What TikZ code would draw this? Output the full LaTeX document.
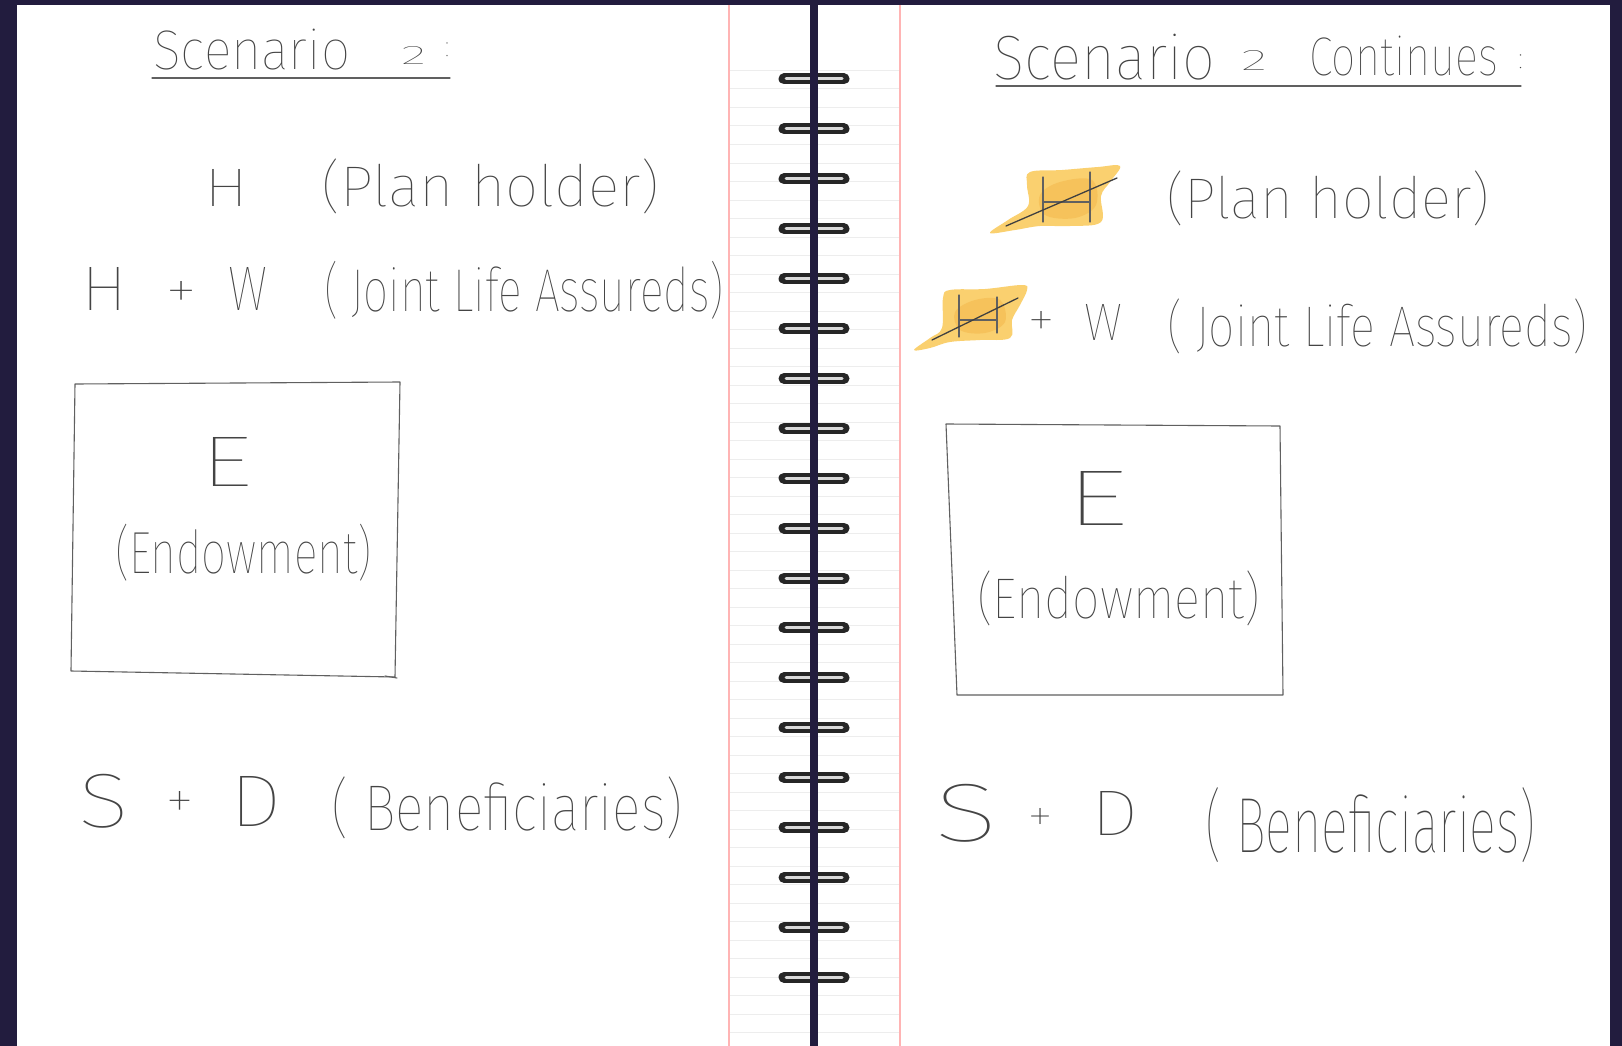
\documentclass[tikz,border=0pt]{standalone}
\usepackage{fontspec}
\usepackage{graphicx}
\newfontfamily\hand{Fira Sans Thin}
\definecolor{frame}{HTML}{221C3E}
\definecolor{ink}{HTML}{444444}
\definecolor{margin}{HTML}{FFB4B4}
\definecolor{rule}{HTML}{EDEDED}
\definecolor{marker}{HTML}{F9C54C}
\definecolor{markerdark}{HTML}{F0A936}

% handwritten word scaled to a given width and total height (pt)
\newcommand\hw[3]{\resizebox*{#1pt}{#2pt}{\hand #3}}

\tikzset{
  word/.style={anchor=west, inner sep=0pt, outer sep=0pt, text=ink},
  pen/.style={draw=ink!85, line width=1.1pt, line join=round, line cap=round},
  strike/.style={draw=black!75, line width=1.3pt, line cap=round},
  hilite/.style={fill=marker, fill opacity=0.8, draw=none},
  hilitedark/.style={fill=markerdark, fill opacity=0.35, draw=none},
  ring/.style={line width=11pt, line cap=round, draw=black!85},
  ringshine/.style={line width=3pt, line cap=round, draw=white!70!gray},
}

\begin{document}
\begin{tikzpicture}[x=1pt,y=-1pt]
\useasboundingbox (0,0) rectangle (1622,1046);
\fill[frame] (0,0) rectangle (1622,1046);
\fill[white] (17,5) rectangle (1610,1046);

% ruled strip between the margins
\foreach \k in {0,...,52}
  \draw[rule, line width=1pt] (729,70.5+18.5*\k) -- (900,70.5+18.5*\k);
\draw[margin, line width=1.8pt] (729,5) -- (729,1046) (900,5) -- (900,1046);

% spiral binding
\foreach \k in {0,...,18}{
  \draw[ring] (784,79+49.9*\k) -- (844,79+49.9*\k);
  \draw[ringshine] (786,79+49.9*\k) -- (842,79+49.9*\k);
}
\fill[frame] (810,0) rectangle (818,1046);

% ---------------- left page ----------------
\node[word] (ttlA) at (153,50) {\hw{197}{41}{Scenario}};
\node[word] (ttlAn) at (401,55) {\hw{25}{18}{2}};
\node[word] (ttlAc) at (445,50) {\hw{4}{14}{:}};
\draw[pen] (152,78) -- (450,78);

\node[word] (hA) at (204,188) {\hw{44}{37}{H}};
\node[word] (phA) at (321,186) {\hw{339}{55}{(Plan holder)}};

\node[word] (hA2) at (81,289) {\hw{46}{43}{H}};
\node[word] (plA) at (165,295) {\hw{32}{28}{+}};
\node[word] (wA) at (228,289) {\hw{39}{43}{W}};
\node[word] (jlA) at (324,290) {\hw{400}{58}{( Joint Life Assureds)}};

\draw[pen] (75,384) -- (400,382) -- (395,677) -- (71,671) -- cycle;
\draw[pen] (385,676) -- (397,678);
\node[word] (eA) at (200,462) {\hw{52}{49}{E}};
\node[word] (enA) at (115,553) {\hw{257}{57}{(Endowment)}};

\node[word] (sA) at (78,801) {\hw{51}{54}{S}};
\node[word] (plA2) at (165,805) {\hw{29}{28}{+}};
\node[word] (dA) at (230,801) {\hw{51}{50}{D}};
\node[word] (bnA) at (331,808) {\hw{352}{62}{( Beneficiaries)}};

% ---------------- right page ----------------
\node[word] (ttlB) at (993,57) {\hw{222}{46}{Scenario}};
\node[word] (ttlBn) at (1241,60) {\hw{26}{20}{2}};
\node[word] (ttlBc) at (1309,56) {\hw{189}{40}{Continues}};
\node[word] (ttlBd) at (1518,62) {\hw{5}{14}{:}};
\draw[pen] (996,86) -- (1521,86);

% highlighted, struck-out H (plan holder)
\fill[hilite] plot[smooth cycle, tension=0.6] coordinates {
  (990,233) (1008,220) (1028,206) (1027,185) (1030,172) (1062,170)
  (1098,167) (1120,166) (1110,182) (1101,196) (1101,222) (1070,226)
  (1040,226) (1015,230)};
\fill[hilitedark] plot[smooth cycle, tension=0.6] coordinates {
  (1040,195) (1060,182) (1092,180) (1096,205) (1075,218) (1045,215)};
\draw[pen] (1043,177) -- (1043,222) (1090,172) -- (1090,222) (1043,202) -- (1090,202);
\draw[strike] (1006,226) -- (1117,178);
\node[word] (phB) at (1166,198) {\hw{324}{55}{(Plan holder)}};

% highlighted, struck-out H (joint life)
\fill[hilite] plot[smooth cycle, tension=0.6] coordinates {
  (914,350) (930,338) (942,328) (943,298) (950,290) (985,289)
  (1022,285) (1027,290) (1020,305) (1012,320) (1010,338) (980,340)
  (950,342) (930,348)};
\fill[hilitedark] plot[smooth cycle, tension=0.6] coordinates {
  (955,312) (975,300) (1000,300) (1005,322) (985,333) (960,330)};
\draw[pen] (959,295) -- (959,337) (997,297) -- (997,333) (959,320) -- (997,320);
\draw[strike] (932,340) -- (1018,298);
\node[word] (plB) at (1027,324) {\hw{28}{26}{+}};
\node[word] (wB) at (1084,322) {\hw{38}{36}{W}};
\node[word] (jlB) at (1167,326) {\hw{421}{55}{( Joint Life Assureds)}};

\draw[pen] (946,424) -- (1280,426) -- (1283,695) -- (957,695) -- cycle;
\node[word] (eB) at (1065,498) {\hw{63}{54}{E}};
\node[word] (enB) at (977,598) {\hw{283}{55}{(Endowment)}};

\node[word] (sB) at (934,813) {\hw{64}{58}{S}};
\node[word] (plB2) at (1027,820) {\hw{26}{24}{+}};
\node[word] (dB) at (1091,813) {\hw{47}{44}{D}};
\node[word] (bnB) at (1205,825) {\hw{331}{75}{( Beneficiaries)}};
\end{tikzpicture}
\end{document}
